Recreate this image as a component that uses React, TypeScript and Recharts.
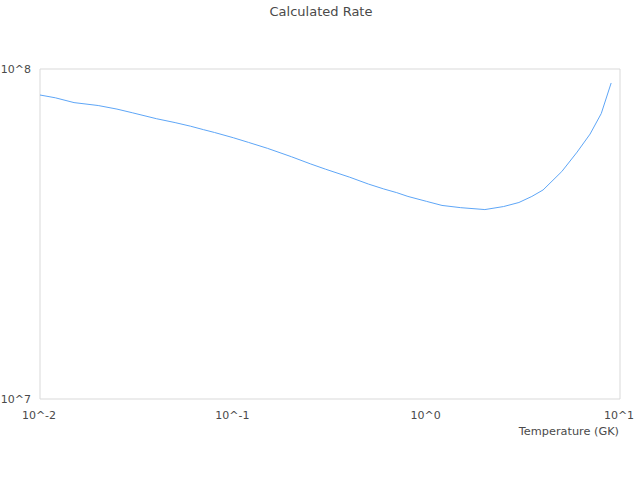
import React from "react";
import { LineChart, Line, XAxis, YAxis, ReferenceArea } from "recharts";

const temperatures = [
  0.01, 0.012, 0.015, 0.02, 0.025, 0.03, 0.04, 0.05, 0.06, 0.07, 0.08, 0.1,
  0.12, 0.15, 0.2, 0.25, 0.3, 0.4, 0.5, 0.6, 0.7, 0.8, 1, 1.2, 1.5, 2, 2.5,
  3, 3.5, 4, 5, 6, 7, 8, 9,
];
const rates = [
  8.34e7, 8.18e7, 7.91e7, 7.75e7, 7.56e7, 7.37e7, 7.07e7, 6.88e7, 6.71e7,
  6.55e7, 6.42e7, 6.19e7, 5.99e7, 5.75e7, 5.42e7, 5.16e7, 4.97e7, 4.7e7,
  4.48e7, 4.33e7, 4.22e7, 4.11e7, 3.97e7, 3.86e7, 3.8e7, 3.75e7, 3.83e7,
  3.94e7, 4.11e7, 4.3e7, 4.89e7, 5.6e7, 6.35e7, 7.33e7, 9.07e7,
];
const xTicks = [0.01, 0.1, 1, 10];
const xTickLabels = ["10^-2", "10^-1", "10^0", "10^1"];
const yTicks = [1e7, 1e8];
const yTickLabels = ["10^7", "10^8"];

const data = temperatures.map((t, i) => ({ t, r: rates[i] }));

const FONT = "DejaVu Sans, sans-serif";
const TEXT = "#4a4a4a";

const XTick = (props: any) => {
  const { x, y, payload } = props;
  const idx = xTicks.indexOf(payload.value);
  return (
    <text x={x - 1} y={y + 12} textAnchor="middle" fontSize={11} fill={TEXT} fontFamily={FONT}>
      {idx >= 0 ? xTickLabels[idx] : ""}
    </text>
  );
};

const YTick = (props: any) => {
  const { x, y, payload } = props;
  const idx = yTicks.indexOf(payload.value);
  return (
    <text x={x - 1} y={y + 4} textAnchor="end" fontSize={11} fill={TEXT} fontFamily={FONT}>
      {idx >= 0 ? yTickLabels[idx] : ""}
    </text>
  );
};

export default function App() {
  return (
    <div style={{ position: "absolute", left: 0, top: 0, width: 640, height: 480 }}>
      <LineChart
        width={640}
        height={480}
        data={data}
        margin={{ top: 69, right: 20, bottom: 0, left: 0 }}
      >
        <text x={321} y={16} textAnchor="middle" fontSize={13} fill={TEXT} fontFamily={FONT}>
          Calculated Rate
        </text>
        <text x={619} y={435} textAnchor="end" fontSize={11.3} fill={TEXT} fontFamily={FONT}>
          Temperature (GK)
        </text>
        <XAxis
          dataKey="t"
          type="number"
          scale="log"
          domain={[0.01, 10]}
          ticks={xTicks}
          tick={<XTick />}
          tickLine={false}
          axisLine={false}
          height={81}
          allowDataOverflow
        />
        <YAxis
          type="number"
          scale="log"
          domain={[1e7, 1e8]}
          ticks={yTicks}
          tick={<YTick />}
          tickLine={false}
          axisLine={false}
          width={40}
          allowDataOverflow
        />
        <ReferenceArea
          x1={0.01}
          x2={10}
          y1={1e7}
          y2={1e8}
          fill="none"
          fillOpacity={0}
          stroke="#d9d9d9"
          strokeWidth={1}
        />
        <Line
          dataKey="r"
          stroke="#5ea6f7"
          strokeWidth={1}
          dot={false}
          isAnimationActive={false}
          type="linear"
        />
      </LineChart>
    </div>
  );
}
